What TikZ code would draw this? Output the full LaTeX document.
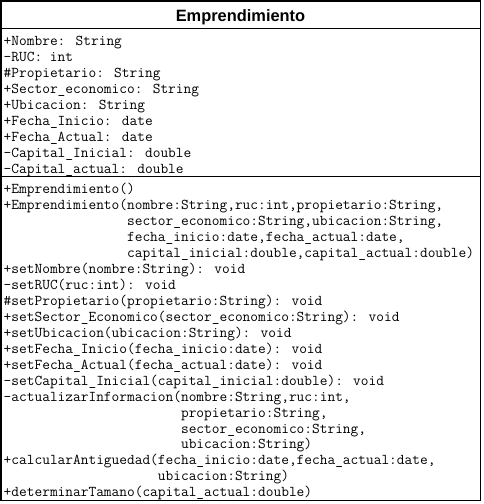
\documentclass[tikz,border=0pt]{standalone}
\usepackage{fontspec}
\setmainfont{Liberation Sans}
\usetikzlibrary{matrix}

\begin{document}
\begin{tikzpicture}[x=1pt, y=-1pt, line width=1.5pt,
  classname/.style={font=\fontsize{16.4}{18}\selectfont\bfseries, inner sep=0, anchor=base},
  members/.style={matrix of nodes, inner sep=0, row sep=0pt, anchor=north west,
    nodes={anchor=west, inner sep=0, text height=11pt, text depth=#1,
      font=\fontsize{14.97}{16}\selectfont\ttfamily}}]

\useasboundingbox (0,0) rectangle (483,504);

%class box
\coordinate (tl) at (0.75,0.75);
\coordinate (br) at (480.5,500.5);
\draw (tl) rectangle (br);
\draw (tl |- 0,28.5) -- (br |- 0,28.5);
\draw (tl |- 0,176.5) -- (br |- 0,176.5);

\node[classname] (name) at (240.5,21) {Emprendimiento};

%attributes
\matrix(a)[members=5pt] at (3,33.5)
{%
+Nombre: String\\
-RUC: int\\
\#Propietario: String\\
+Sector\_economico: String\\
+Ubicacion: String\\
+Fecha\_Inicio: date\\
+Fecha\_Actual: date\\
-Capital\_Inicial: double\\
-Capital\_actual: double\\
};

%methods
\matrix(m)[members=4.95pt] at (3,182)
{%
+Emprendimiento()\\
+Emprendimiento(nombre:String,ruc:int,propietario:String,\\
\hphantom{+Emprendimiento(}sector\_economico:String,ubicacion:String,\\
\hphantom{+Emprendimiento(}fecha\_inicio:date,fecha\_actual:date,\\
\hphantom{+Emprendimiento(}capital\_inicial:double,capital\_actual:double)\\
+setNombre(nombre:String): void\\
-setRUC(ruc:int): void\\
\#setPropietario(propietario:String): void\\
+setSector\_Economico(sector\_economico:String): void\\
+setUbicacion(ubicacion:String): void\\
+setFecha\_Inicio(fecha\_inicio:date): void\\
+setFecha\_Actual(fecha\_actual:date): void\\
-setCapital\_Inicial(capital\_inicial:double): void\\
-actualizarInformacion(nombre:String,ruc:int,\\
\hphantom{-actualizarInformacion(}propietario:String,\\
\hphantom{-actualizarInformacion(}sector\_economico:String,\\
\hphantom{-actualizarInformacion(}ubicacion:String)\\
+calcularAntiguedad(fecha\_inicio:date,fecha\_actual:date,\\
\hphantom{+calcularAntiguedad(}ubicacion:String)\\
+determinarTamano(capital\_actual:double)\\
};

\end{tikzpicture}
\end{document}
